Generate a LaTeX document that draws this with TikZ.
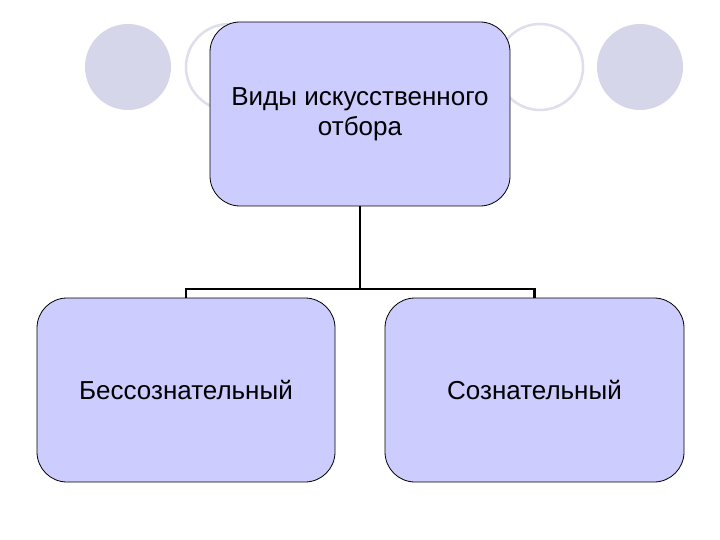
\documentclass[tikz,border=0pt]{standalone}
\usepackage{fontspec}
\setmainfont{Liberation Sans}
\definecolor{boxfill}{RGB}{204,204,255}
\definecolor{circfill}{RGB}{214,214,234}
\definecolor{circline}{RGB}{222,222,236}
\begin{document}
\begin{tikzpicture}[x=1pt,y=-1pt,
  box/.style={draw=black,line width=0.8pt,fill=boxfill,rounded corners=30pt,
    minimum width=300pt,minimum height=184pt,align=center,inner sep=0pt,
    font=\fontsize{26}{30}\selectfont},
  conn/.style={draw=black,line width=2.2pt},
  fcirc/.style={fill=circfill},
  ocirc/.style={draw=circline,line width=2.5pt}]
\useasboundingbox (0,0) rectangle (720,540);
\fill[white] (0,0) rectangle (720,540);
\fill[fcirc] (128,67) circle (43);
\draw[ocirc] (229,67) circle (43);
\draw[ocirc] (540,67) circle (43);
\fill[fcirc] (640,67) circle (43);
\node[box] (top) at (360,114) {Виды искусственного\\отбора};
\node[box,minimum width=298pt] (bl) at (186,390) {Бессознательный};
\node[box,minimum width=299pt] (br) at (534.5,390) {Сознательный};
\coordinate (j) at (360,289);
\draw[conn] (top.south) -- (j);
\draw[conn] (bl.north) -- (bl.north |- j) -- (br.north |- j) -- (br.north);
\end{tikzpicture}
\end{document}
